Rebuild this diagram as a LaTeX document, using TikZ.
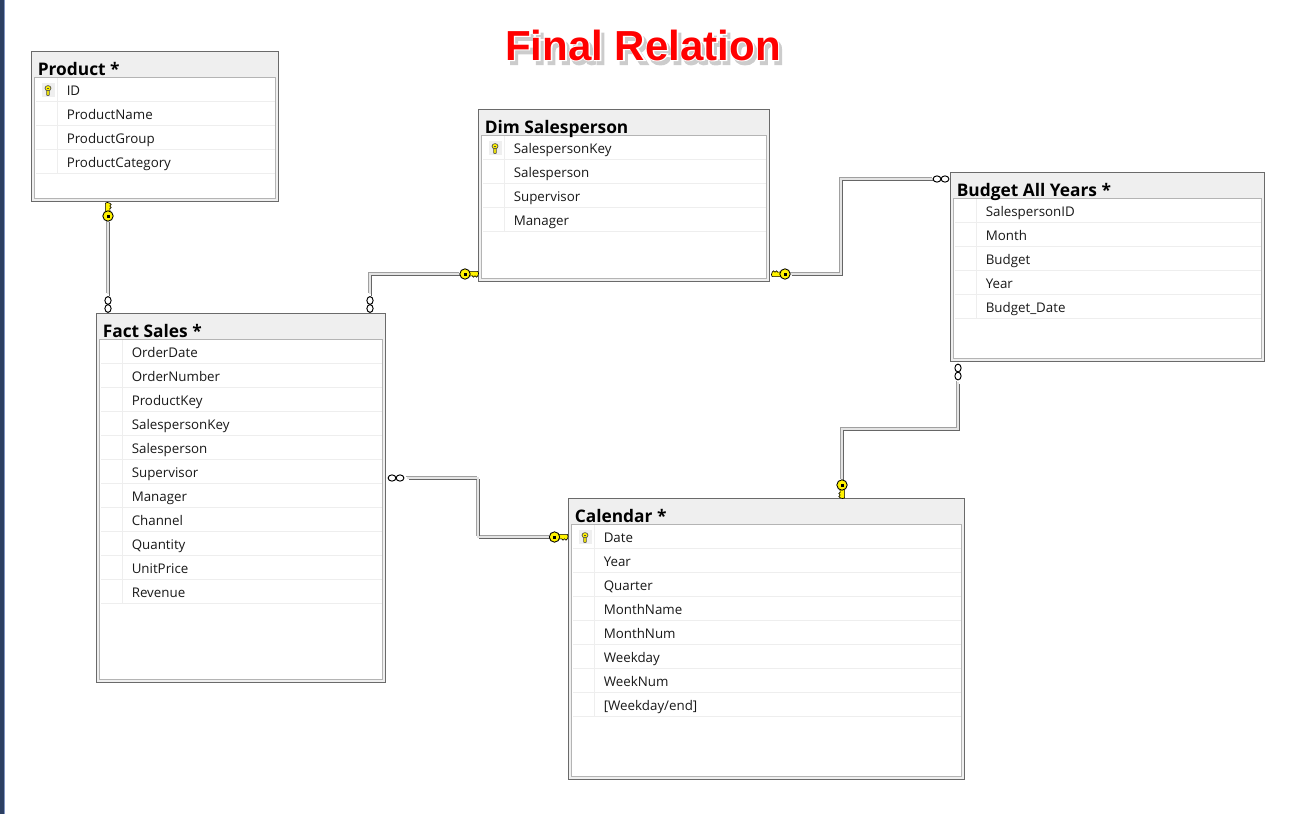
\documentclass[tikz,border=0pt]{standalone}
\usepackage{fontspec}
\usetikzlibrary{calc}
\setmainfont{Open Sans}
\newfontfamily\titlefont[Scale=1]{Liberation Sans Bold}
\newfontfamily\halofont[FakeBold=5]{Liberation Sans Bold}
\definecolor{hdr}{HTML}{EFEFEF}
\definecolor{edgeD}{HTML}{6A6A6A}
\definecolor{edgeL}{HTML}{B4B4B4}
\definecolor{rowline}{HTML}{EEEEEE}
\definecolor{keyY}{HTML}{FFF200}
\definecolor{stripD}{HTML}{2C3F62}
\definecolor{stripL}{HTML}{8296C2}
\definecolor{lineM}{HTML}{E4E4E4}
\definecolor{lineL}{HTML}{A0A0A0}
\definecolor{lineD}{HTML}{666666}
\tikzset{
  tableouter/.style={draw=edgeD,line width=0.75pt,fill=hdr,anchor=north west,inner sep=0pt,outer sep=0pt},
  tableinner/.style={draw=edgeL,line width=0.7pt,fill=white,anchor=north west,inner sep=0pt,outer sep=0pt},
  tabletitle/.style={anchor=base west,inner sep=0pt,font=\fontsize{13pt}{14pt}\selectfont\bfseries},
  rowtext/.style={anchor=base west,inner sep=0pt,text=black!90,font=\fontsize{10pt}{11pt}\selectfont},
  rowrule/.style={draw=rowline,line width=0.75pt},
  relkey/.pic={
    \draw[fill=keyY,draw=black,line width=0.45pt]
      (3,-2.6) -- (12.8,-2.6) -- (13.6,-0.6) -- (12.8,1.8) -- (11.4,3.2) -- (10,1.8) -- (8.6,3.2) -- (7.2,1.8) -- (3,2.2) -- cycle;
    \draw[fill=keyY,draw=black,line width=0.65pt] (0,0) circle (5.2);
    \fill[black] (-1.5,-1.5) rectangle (1.5,1.5);
  },
  colkey/.pic={
    \fill[hdr] (-6.5,-7) rectangle (6.5,7);
    \draw[fill=keyY,draw=black!70,line width=0.5pt]
      (-1.3,0) -- (-1.3,5) -- (0,5.6) -- (1.3,5) -- (1.3,0) -- cycle;
    \draw[fill=keyY,draw=black!70,line width=0.5pt] (0,-1.8) ellipse (3 and 2.6);
    \fill[black!70] (-0.7,-2.5) rectangle (0.7,-1.1);
  },
  relloops/.pic={
    \draw[fill=white,draw=black,line width=0.7pt] (-4,0) ellipse (3.9 and 3.1);
    \draw[fill=white,draw=black,line width=0.7pt] (4,0) ellipse (3.9 and 3.1);
  }
}
% table: name, x1, y1, x2, y2, title, has key, rows
\newcommand{\dbtable}[8]{%
  \pgfmathsetlengthmacro{\tw}{(#4-#2)*0.75pt}%
  \pgfmathsetlengthmacro{\th}{(#5-#3)*0.75pt}%
  \pgfmathsetlengthmacro{\iw}{(#4-#2-6)*0.75pt}%
  \pgfmathsetlengthmacro{\ih}{(#5-#3-29)*0.75pt}%
  \node[tableouter,minimum width=\tw,minimum height=\th] (#1) at (#2-0.2,#3-0.2) {};
  \node[tableinner,minimum width=\iw,minimum height=\ih] (#1-in) at ($(#2-0.2,#3-0.2)+(3,26)$) {};
  \node[tabletitle] (#1-title) at ($(#2,#3)+(5.5,23)$) {#6};
  \foreach \rowname [count=\i from 0] in {#8} {
    \pgfmathsetmacro{\rowy}{#3+26+24*\i+17}
    \pgfmathsetmacro{\ruley}{#3+26+24*(\i+1)-0.2}
    \pgfmathsetmacro{\sepx}{#2+25.8}
    \draw[rowrule] (#2+4,\ruley) -- (#4-4,\ruley);
    \draw[rowrule] (\sepx,\ruley-24) -- (\sepx,\ruley);
    \node[rowtext] (#1-row\i) at (#2+34.5,\rowy) {\rowname};
  }
  \ifnum#7=1 \pic at (#2+16,#3+38) {colkey}; \fi
}
% two-tone relationship line
\newcommand{\relline}[1]{%
  \draw[line width=1.3pt,lineL,transform canvas={shift={(-1.5,-1.5)}}] #1;
  \draw[line width=1.3pt,lineD,transform canvas={shift={(1.5,1.5)}}] #1;
  \draw[line width=1.2pt,lineM] #1;
}
\begin{document}
\begin{tikzpicture}[x=0.75pt,y=-0.75pt]
\useasboundingbox (0,0) rectangle (1310,814);
\fill[white] (0,0) rectangle (1310,814);
\fill[stripD] (0,0) rectangle (4,814);
\fill[stripL] (4,0) rectangle (5,814);

% title
\node[inner sep=0pt,anchor=base,text=black!20,font=\fontsize{31.5pt}{34pt}\halofont] (titleshadow) at (646,64) {Final Relation};
\node[inner sep=0pt,anchor=base,text=white,font=\fontsize{31.5pt}{34pt}\halofont] (titlehalo) at (643,60) {Final Relation};
\node[inner sep=0pt,anchor=base,text=red,font=\fontsize{31.5pt}{34pt}\titlefont] (titlemain) at (643,60) {Final Relation};

\dbtable{product}{32}{52}{279}{202}{Product *}{1}{ID,ProductName,ProductGroup,ProductCategory}
\dbtable{salesperson}{479}{110}{770}{282}{Dim Salesperson}{1}{SalespersonKey,Salesperson,Supervisor,Manager}
\dbtable{budget}{951}{173}{1265}{362}{Budget All Years *}{0}{SalespersonID,Month,Budget,Year,Budget\_Date}
\dbtable{fact}{97}{314}{386}{683}{Fact Sales *}{0}{OrderDate,OrderNumber,ProductKey,SalespersonKey,Salesperson,Supervisor,Manager,Channel,Quantity,UnitPrice,Revenue}
\dbtable{calendar}{569}{499}{965}{780}{Calendar *}{1}{Date,Year,Quarter,MonthName,MonthNum,Weekday,WeekNum,{[Weekday/end]}}

% connector ends
\coordinate (k1) at (108,220);  \coordinate (l1) at (108,294);
\coordinate (k2) at (460,274);  \coordinate (l2) at (370,294);
\coordinate (k3) at (790,274);  \coordinate (l3) at (933,179);
\coordinate (k4) at (550,537);  \coordinate (l4) at (407,478);
\coordinate (k5) at (842,480);  \coordinate (l5) at (958,382);
\coordinate (b2a) at (370,274);
\coordinate (b3a) at (841,274); \coordinate (b3b) at (841,179);
\coordinate (b4a) at (478,478); \coordinate (b4b) at (478,537);
\coordinate (b5a) at (958,429); \coordinate (b5b) at (842,429);

\relline{(k1) -- (l1)}
\relline{(l2) -- (b2a) -- (k2)}
\relline{(k3) -- (b3a) -- (b3b) -- (l3)}
\relline{(l4) -- (b4a) -- (b4b) -- (k4)}
\relline{(l5) -- (b5a) -- (b5b) -- (k5)}

\pic[rotate=90] at (108,216) {relkey};
\pic at (465,274) {relkey};
\pic[rotate=180] at (785,274) {relkey};
\pic at (554.5,537) {relkey};
\pic[rotate=-90] at (842,485) {relkey};

\pic[rotate=90] at (108,304.5) {relloops};
\pic[rotate=90] at (370,304.5) {relloops};
\pic at (941,179) {relloops};
\pic at (396,478) {relloops};
\pic[rotate=90] at (958,372) {relloops};
\end{tikzpicture}
\end{document}
